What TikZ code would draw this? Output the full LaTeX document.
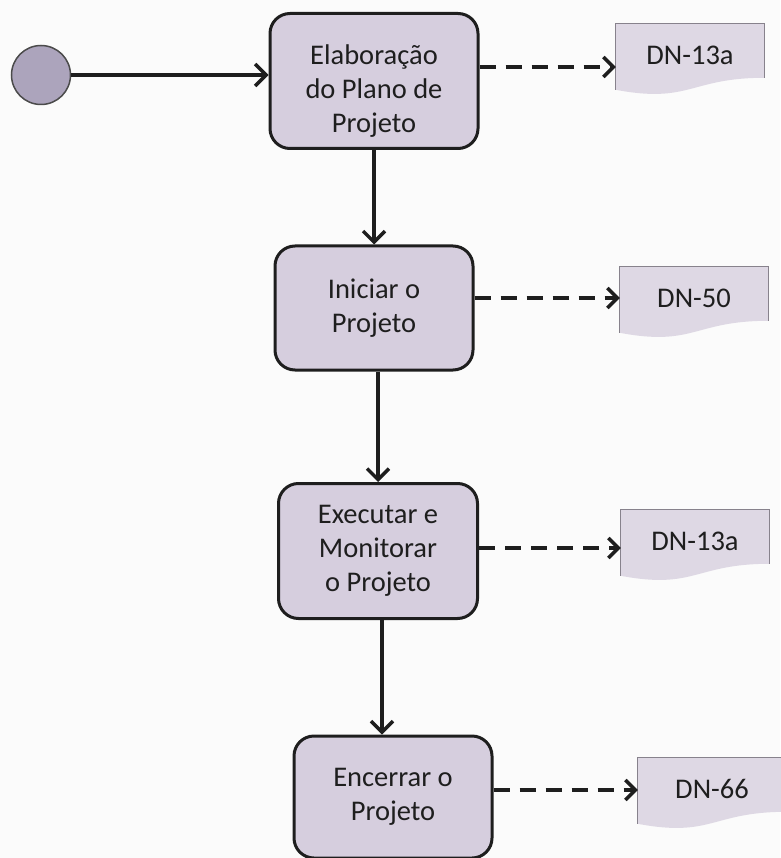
\documentclass[tikz,border=0pt]{standalone}
\usepackage{fontspec}
\setmainfont{Carlito}
\usetikzlibrary{arrows.meta,calc,backgrounds}

\definecolor{paper}{RGB}{251,251,251}
\definecolor{ink}{RGB}{30,30,30}
\definecolor{boxfill}{RGB}{214,206,222}
\definecolor{docfill}{RGB}{222,216,228}
\definecolor{docline}{RGB}{135,130,140}
\definecolor{startfill}{RGB}{172,164,188}

\tikzset{
  activity/.style={draw=ink, line width=3pt, fill=boxfill, rounded corners=20pt,
    align=center, text=ink, inner sep=0pt,
    font=\fontsize{28.5}{34}\selectfont},
  docnode/.style={minimum width=148pt, minimum height=62pt, inner sep=0pt,
    text=ink, font=\fontsize{28.5}{34}\selectfont},
  startnode/.style={circle, draw=ink!80, line width=1.5pt, fill=startfill,
    minimum size=59pt, inner sep=0pt},
  flow/.style={draw=ink, line width=3.5pt,
    -{Straight Barb[length=11pt,width=22pt,line width=3.5pt]}},
  docflow/.style={draw=ink, line width=4.5pt, dash pattern=on 16pt off 10pt,
    -{Straight Barb[length=10pt,width=20pt,line width=3.5pt]}},
}

% document symbol behind a text node: straight top and sides, wavy bottom
\newcommand{\docoutline}[1]{%
  \fill[docfill] (#1.north west) -- (#1.north east)
    -- ($(#1.north east)+(0,54)$)
    .. controls ($(#1.north)+(0,54)$) and ($(#1.north)+(0,80)$)
    .. ($(#1.north west)+(0,66)$) -- cycle;
  \draw[docline, line width=1.2pt]
    ($(#1.north west)+(0,66)$) -- (#1.north west) -- (#1.north east)
    -- ($(#1.north east)+(0,54)$);
}

\begin{document}
\begin{tikzpicture}[x=1pt, y=-1pt]
  \useasboundingbox (0,0) rectangle (780,858);

  % start state
  \node[startnode] (start) at (41,75) {};

  % activities
  \node[activity, minimum width=208pt, minimum height=135pt] (b1) at (374,81)
    {\rule{0pt}{40pt}Elaboração\\do Plano de\\Projeto};
  \node[activity, minimum width=198pt, minimum height=124pt] (b2) at (374,308)
    {Iniciar o\\Projeto};
  \node[activity, minimum width=199pt, minimum height=135pt] (b3) at (378,551)
    {Executar e\\Monitorar\\o Projeto};
  \node[activity, minimum width=198pt, minimum height=122pt] (b4) at (393,797)
    {Encerrar o\\Projeto};

  % documents
  \node[docnode] (d1) at (690,55)  {DN-13a};
  \node[docnode] (d2) at (694,298) {DN-50};
  \node[docnode] (d3) at (695,541) {DN-13a};
  \node[docnode] (d4) at (712,789) {DN-66};

  \begin{scope}[on background layer]
    \fill[paper] (0,0) rectangle (780,858);
    \docoutline{d1}
    \docoutline{d2}
    \docoutline{d3}
    \docoutline{d4}
  \end{scope}

  % heights of the dashed links
  \coordinate (t1) at (600,67);
  \coordinate (t2) at (600,298);
  \coordinate (t3) at (600,548);
  \coordinate (t4) at (600,790);

  % control flow
  \draw[flow] (start.east) -- (b1.west |- start.east);
  \draw[flow] (b1.south) -- (b1.south |- b2.north);
  \draw[flow] ([xshift=4pt]b2.south) -- ([xshift=4pt]b2.south |- b3.north);
  \draw[flow] ([xshift=4pt]b3.south) -- ([xshift=4pt]b3.south |- b4.north);

  % produced documents
  \draw[docflow] (b1.east |- t1) -- (d1.west |- t1);
  \draw[docflow] (b2.east |- t2) -- (d2.west |- t2);
  \draw[docflow] (b3.east |- t3) -- (d3.west |- t3);
  \draw[docflow] (b4.east |- t4) -- (d4.west |- t4);
\end{tikzpicture}
\end{document}
